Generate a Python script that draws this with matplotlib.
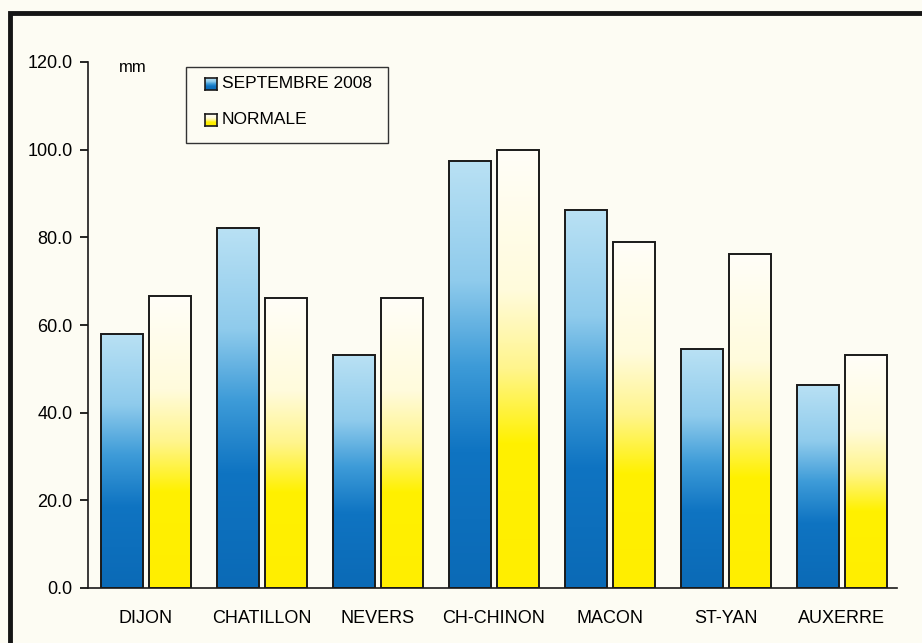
import numpy as np
import matplotlib
matplotlib.use("Agg")
import matplotlib.pyplot as plt
from matplotlib.colors import LinearSegmentedColormap
from matplotlib.patches import Rectangle

# data (mm)
stations = ["DIJON", "CHATILLON", "NEVERS", "CH-CHINON", "MACON", "ST-YAN", "AUXERRE"]
sept_2008 = [58.0, 82.1, 53.1, 97.4, 86.2, 54.5, 46.4]
normale = [66.6, 66.1, 66.1, 99.9, 78.9, 76.1, 53.1]
yticks = [0, 20, 40, 60, 80, 100, 120]
series_names = ["SEPTEMBRE 2008", "NORMALE"]

plt.rcParams['font.family'] = ['Liberation Sans', 'DejaVu Sans']

bg = "#fdfcf3"

# vertical gradients, bottom -> top of each bar
blue_cmap = LinearSegmentedColormap.from_list("blue_grad", [
    (0.0, "#0b6ab6"), (0.32, "#0f74c2"), (0.52, "#3d9bd8"),
    (0.72, "#8fcbec"), (1.0, "#b9e1f4")])
yellow_cmap = LinearSegmentedColormap.from_list("yellow_grad", [
    (0.0, "#ffee00"), (0.33, "#fff100"), (0.5, "#fff58c"),
    (0.68, "#fffbdc"), (1.0, "#fffef8")])

fig = plt.figure(figsize=(9.22, 6.43), dpi=100)
fig.patch.set_facecolor(bg)

# thick black frame (right and bottom edges fall outside the picture)
fig.patches.append(Rectangle((10 / 922, -0.05), 1.0, 1 - 13 / 643 + 0.05,
                             transform=fig.transFigure, fill=False,
                             edgecolor="#151515", linewidth=3.5, zorder=0))

ax = fig.add_axes([88 / 922, 1 - 588 / 643, (897 - 88) / 922, (588 - 62) / 643])
ax.set_facecolor(bg)

x = np.arange(len(stations))
width = 0.362
offset = 0.207
grad = np.linspace(0, 1, 256).reshape(-1, 1)

for vals, cmap, dx in [(sept_2008, blue_cmap, -offset), (normale, yellow_cmap, offset)]:
    bars = ax.bar(x + dx, vals, width, fill=False, edgecolor="#1a1a1a",
                  linewidth=1.4, zorder=3)
    for b in bars:
        x0, h = b.get_x(), b.get_height()
        ax.imshow(grad, cmap=cmap, origin="lower", aspect="auto",
                  extent=(x0, x0 + width, 0, h), zorder=2, interpolation="bilinear")

ax.set_xlim(-0.496, 6.478)
ax.set_ylim(0, 120)
ax.set_yticks(yticks)
ax.set_yticklabels([f"{v:.1f}" for v in yticks])
ax.set_xticks(x)
ax.set_xticklabels(stations)
ax.tick_params(axis="x", length=0, pad=16, labelsize=13)
ax.tick_params(axis="y", length=6, width=1.2, direction="out", pad=5, labelsize=13)
for s in ["top", "right"]:
    ax.spines[s].set_visible(False)
for s in ["left", "bottom"]:
    ax.spines[s].set_linewidth(1.2)
    ax.spines[s].set_color("#1a1a1a")

ax.text(119 / 922, 1 - 68 / 643, "mm", transform=fig.transFigure,
        fontsize=12, va="center", ha="left")

# legend box drawn by hand to match the square gradient keys
lx0, ly0, lx1, ly1 = 186, 67, 388, 143
fig.patches.append(Rectangle((lx0 / 922, 1 - ly1 / 643), (lx1 - lx0) / 922, (ly1 - ly0) / 643,
                             transform=fig.transFigure, facecolor=bg,
                             edgecolor="#333333", linewidth=1.0, zorder=5))
for i, (name, cmap) in enumerate(zip(series_names, [blue_cmap, yellow_cmap])):
    cy = 84 + i * 36
    kax = fig.add_axes([205 / 922, 1 - (cy + 6) / 643, 12 / 922, 12 / 643], zorder=6)
    kax.imshow(grad, cmap=cmap, origin="lower", aspect="auto", extent=(0, 1, 0, 1))
    kax.set_xticks([])
    kax.set_yticks([])
    for sp in kax.spines.values():
        sp.set_linewidth(1.2)
        sp.set_color("#1a1a1a")
    fig.text(222 / 922, 1 - cy / 643, name, fontsize=12.5, va="center", ha="left", zorder=7)

fig.savefig("out.png", dpi=100, facecolor=bg)
